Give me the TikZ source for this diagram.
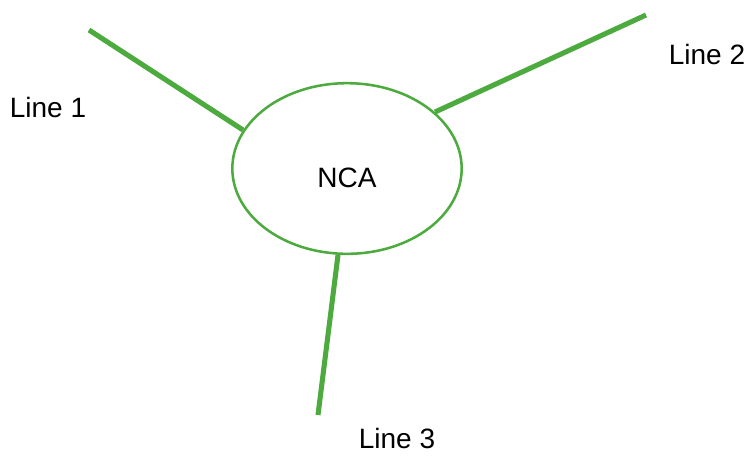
\documentclass[tikz,border=0pt]{standalone}
\usepackage{fontspec}
\setmainfont{Liberation Sans}
\usetikzlibrary{shapes.geometric}
\definecolor{ncagreen}{RGB}{76,170,62}
\tikzset{every picture/.style={line width=0.75pt}}

\begin{document}
\begin{tikzpicture}[x=0.75pt,y=0.75pt,yscale=-1,xscale=1]
\tikzset{
  wire/.style={draw=ncagreen, line width=3.8pt},
  label/.style={font=\fontsize{21}{25}\selectfont, inner sep=0pt}
}
\path[use as bounding box] (0,0) rectangle (749,455);

%Shape: Ellipse [id:nca]
\node [ellipse, draw=ncagreen, line width=1.9pt, minimum width=172pt, minimum height=128pt, inner sep=0pt] (nca) at (347,168.5) {};

%Wire ends
\coordinate (w1a) at (89,30);
\coordinate (w1b) at (243,130);
\coordinate (w2a) at (646,15);
\coordinate (w2b) at (435,112);
\coordinate (w3a) at (338,255);
\coordinate (w3b) at (318,415);

%Straight Lines
\draw [wire] (w1a) -- (w1b) ;
\draw [wire] (w2a) -- (w2b) ;
\draw [wire] (w3a) -- (w3b) ;

% Text Node
\node [label] (ncatext) at (347,178) {NCA};
% Text Node
\node [label] (line1) at (48,107) {Line 1};
% Text Node
\node [label] (line2) at (707,54) {Line 2};
% Text Node
\node [label] (line3) at (397,438) {Line 3};

\end{tikzpicture}
\end{document}
